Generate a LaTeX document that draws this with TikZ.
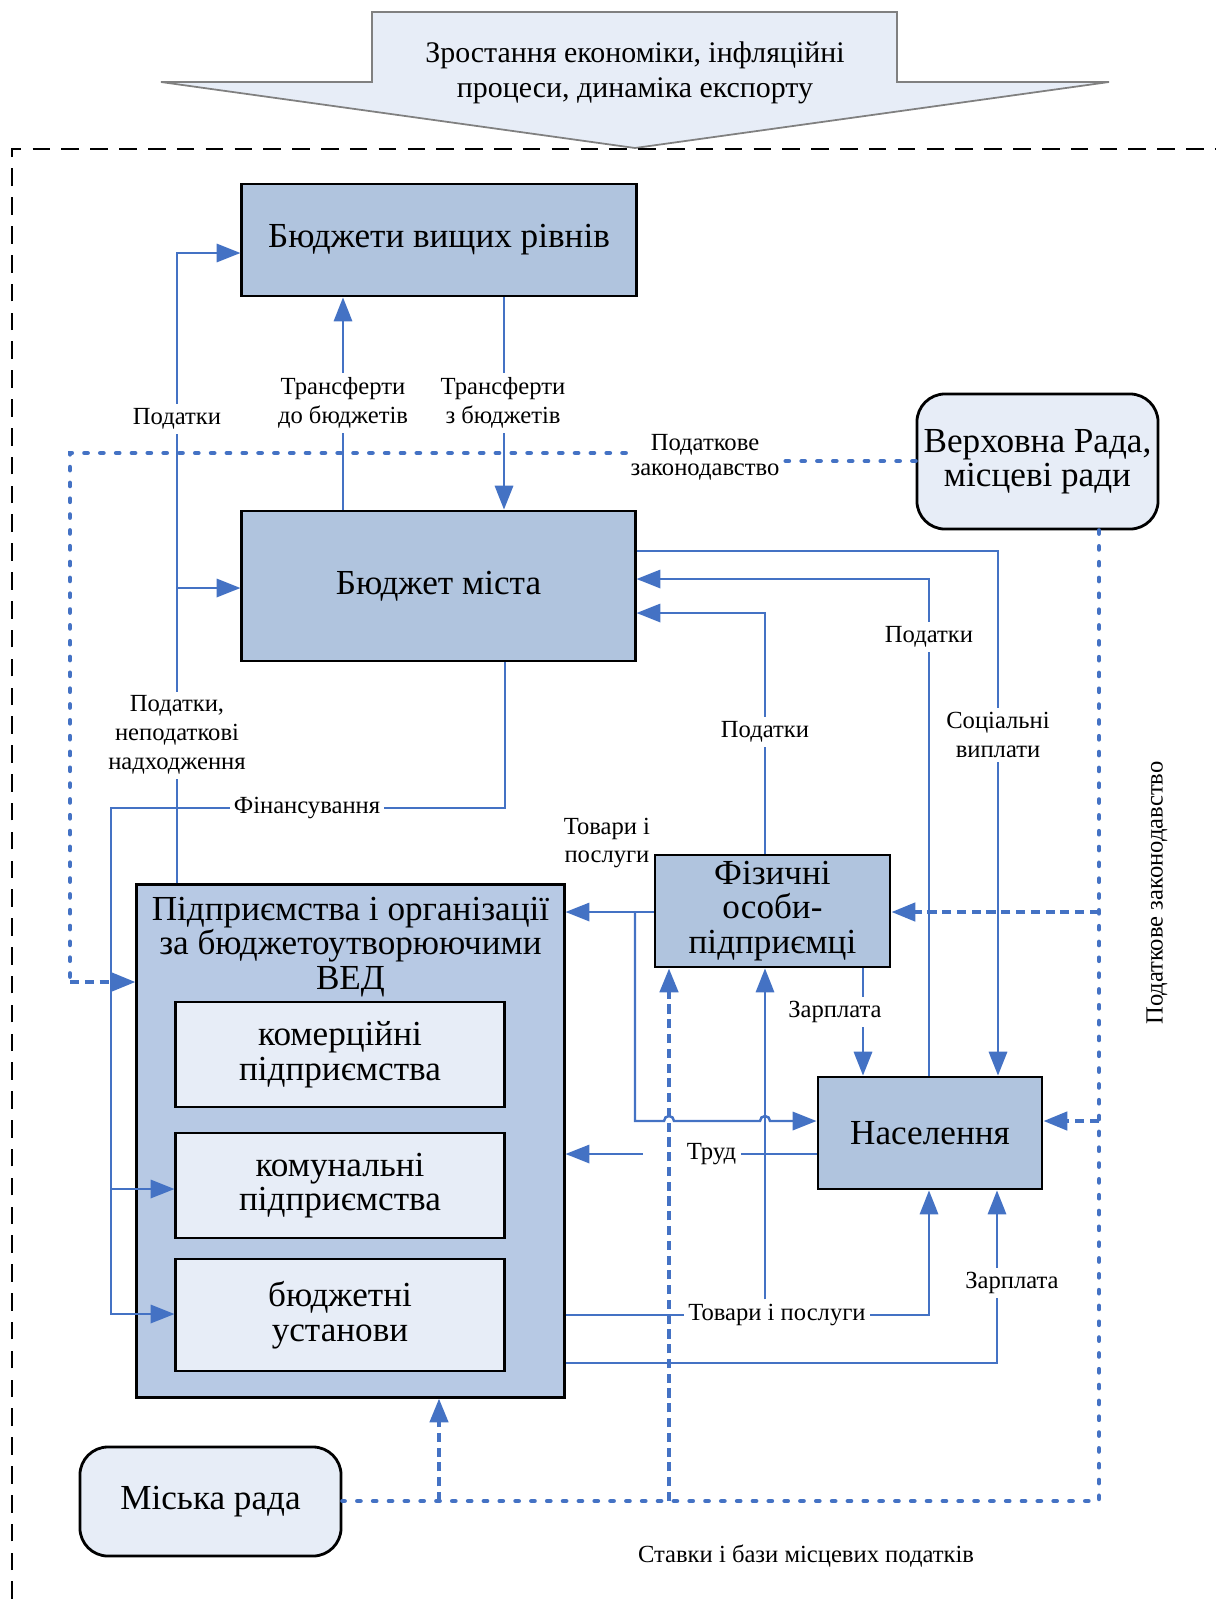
\documentclass[tikz,border=0pt]{standalone}
\usepackage{fontspec}
\setmainfont{Liberation Serif}
\usetikzlibrary{arrows.meta}

\definecolor{lineblue}{RGB}{68,114,196}
\definecolor{boxblue}{RGB}{176,196,222}
\definecolor{bigblue}{RGB}{183,201,228}
\definecolor{paleblue}{RGB}{231,237,247}

\tikzset{
  block/.style={draw=black, line width=0.8pt, fill=boxblue, align=center, inner sep=1pt,
    font=\fontsize{10}{9.8}\selectfont},
  inbox/.style={block, fill=paleblue},
  council/.style={block, fill=paleblue, rounded corners=8pt},
  lab/.style={font=\fontsize{7}{8.2}\selectfont, align=center, fill=white, inner sep=1.2pt},
  conn/.style={draw=lineblue, line width=0.7pt},
  arr/.style={conn, -{Triangle[length=6.8pt,width=5.2pt]}},
  dotln/.style={draw=lineblue, line width=1.3pt, dash pattern=on 0.9pt off 3.6pt, line cap=round},
  dasharr/.style={draw=lineblue, line width=1.1pt, dash pattern=on 2.6pt off 1.6pt,
    -{Triangle[length=6.8pt,width=5.2pt]}},
}

\begin{document}
\begin{tikzpicture}[x=0.01cm, y=-0.01cm]
\useasboundingbox (0,0) rectangle (1216,1599);

% outer influence arrow
\draw[draw=gray, line width=0.5pt, fill=paleblue] (372,12) -- (897,12) -- (897,82) -- (1109,82)
  -- (635,148) -- (161,82) -- (372,82) -- cycle;
\node[align=center, font=\fontsize{8.5}{10}\selectfont] (trend) at (635,73)
  {Зростання економіки, інфляційні\\процеси, динаміка експорту};

% frame
\draw[line width=0.45pt, dash pattern=on 5pt off 3.2pt] (12,1599) -- (12,149) -- (1216,149);

% blocks
\node[block, minimum width=3.94cm, minimum height=1.12cm] (bvr) at (439,240) {Бюджети вищих рівнів};
\node[block, minimum width=3.93cm, minimum height=1.50cm] (bm) at (438.5,586) {Бюджет міста};
\node[council, minimum width=2.41cm, minimum height=1.35cm] (vr) at (1037.5,461.5) {Верховна Рада,\\місцеві ради};
\node[block, minimum width=2.35cm, minimum height=1.12cm] (fo) at (772.5,911) {Фізичні\\особи-\\підприємці};
\node[block, minimum width=2.24cm, minimum height=1.12cm] (nas) at (930,1133) {Населення};
\node[block, fill=bigblue, minimum width=4.27cm, minimum height=5.12cm] (pid) at (350.5,1141) {};
\node[align=center, font=\fontsize{10}{9.8}\selectfont] (pidtxt) at (350.5,947)
  {Підприємства і організації\\за бюджетоутворюючими\\ВЕД};
\node[inbox, minimum width=3.28cm, minimum height=1.05cm] (kom) at (340,1054.5) {комерційні\\підприємства};
\node[inbox, minimum width=3.28cm, minimum height=1.05cm] (kmn) at (340,1185.5) {комунальні\\підприємства};
\node[inbox, minimum width=3.28cm, minimum height=1.12cm] (bud) at (340,1315) {бюджетні\\установи};
\node[council, minimum width=2.61cm, minimum height=1.09cm] (mr) at (210.5,1501.5) {Міська рада};

% taxes from enterprises
\draw[arr] (pid.north -| 177,0) -- (177,253) -- (bvr.west |- 0,253);
\draw[arr] (177,588) -- (bm.west |- 0,588);

% transfers
\draw[arr] (bm.north -| 343,0) -- (bvr.south -| 343,0);
\draw[arr] (bvr.south -| 504,0) -- (bm.north -| 504,0);

% financing
\draw[arr] (bm.south -| 505,0) -- (505,808) -- (111,808) -- (111,1314) -- (bud.west |- 0,1314);
\draw[arr] (111,1189) -- (kmn.west |- 0,1189);

% flows to the city budget
\draw[arr] (bm.east |- 0,551) -- (998,551) -- (nas.north -| 998,0);
\draw[arr] (nas.north -| 929,0) -- (929,579) -- (bm.east |- 0,579);
\draw[arr] (fo.north -| 765,0) -- (765,613) -- (bm.east |- 0,613);

% entrepreneurs
\draw[arr] (fo.west |- 0,912) -- (pid.east |- 0,912);
\draw[arr] (635,912) -- (635,1121) -- (664,1121) arc[start angle=180, end angle=0, radius=0.05cm]
  -- (760,1121) arc[start angle=180, end angle=0, radius=0.05cm] -- (nas.west |- 0,1121);
\draw[arr] (fo.south -| 863,0) -- (nas.north -| 863,0);

% population
\node[lab] (trud) at (711.5,1154) {Труд};
\draw[conn] (nas.west |- 0,1154) -- (trud.east);
\draw[arr] ([xshift=-0.39cm]trud.west) -- (pid.east |- 0,1154);
\draw[arr] (pid.east |- 0,1315) -- (929,1315) -- (nas.south -| 929,0);
\draw[arr] (pid.east |- 0,1363) -- (997,1363) -- (nas.south -| 997,0);

% legislation
\node[lab, fill=none, font=\fontsize{7}{7.2}\selectfont] (zak) at (705,457) {Податкове\\законодавство};
\draw[dotln] (vr.west |- 0,461) -- (zak.east |- 0,461);
\draw[dotln] (zak.west |- 0,453) -- (70,453) -- (70,982);
\draw[dasharr] (70,982) -- (pid.west |- 0,982);
\draw[dotln] (vr.south -| 1099,0) -- (1099,1501) -- (mr.east |- 0,1501);
\draw[dasharr] (1099,912) -- (fo.east |- 0,912);
\draw[dasharr] (1099,1121) -- (nas.east |- 0,1121);
\draw[dasharr] (669,1501) -- (fo.south -| 669,0);
\draw[dasharr] (439,1501) -- (pid.south -| 439,0);

% labels
\node[lab] (tax1) at (177,419) {Податки};
\node[lab] (tax2) at (177,735) {Податки,\\неподаткові\\надходження};
\node[lab] (trto) at (343,403) {Трансферти\\до бюджетів};
\node[lab] (trfrom) at (503,403) {Трансферти\\з бюджетів};
\node[lab] (fin) at (307,808) {Фінансування};
\node[lab] (tax3) at (929,637) {Податки};
\node[lab] (tax4) at (765,732) {Податки};
\node[lab] (soc) at (998,735) {Соціальні\\виплати};
\node[lab, fill=none] (goods1) at (607,843) {Товари і\\послуги};
\node[lab] (wage1) at (835,1012) {Зарплата};
\node[lab] (goods2) at (777,1315) {Товари і послуги};
\draw[arr] (goods2.north -| 765,0) -- (fo.south -| 765,0);
\node[lab] (wage2) at (1012,1283) {Зарплата};
\node[lab, fill=none] (rates) at (806,1556) {Ставки і бази місцевих податків};
\node[lab, fill=none, rotate=90] (law) at (1157,893) {Податкове законодавство};
\end{tikzpicture}
\end{document}
